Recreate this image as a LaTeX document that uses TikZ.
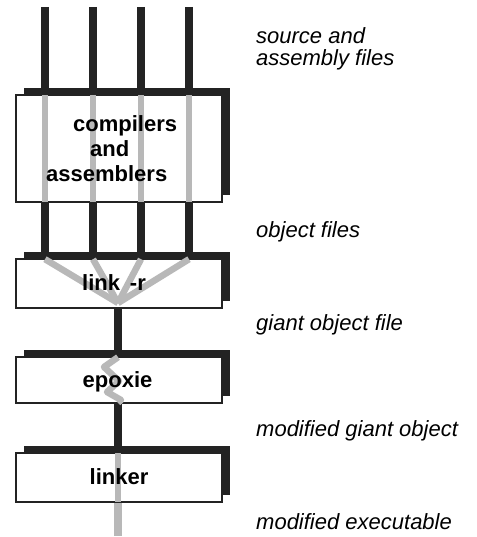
\documentclass[tikz,border=0pt]{standalone}
\usepackage{fontspec}
\setmainfont{Liberation Sans}
\usetikzlibrary{shadows}
\definecolor{wiredark}{HTML}{232323}
\definecolor{wiregrey}{HTML}{B8B8B8}
\begin{document}
\begin{tikzpicture}[x=1pt,y=-1pt,
  darkwire/.style={draw=wiredark,line width=8pt},
  greywire/.style={draw=wiregrey,line width=6.5pt,line join=round},
  stagebox/.style={draw=wiredark,line width=1.6pt,fill=white,minimum width=206pt,inner sep=0pt,
    general shadow={fill=wiredark,shadow xshift=8pt,shadow yshift=7pt}},
  stagetext/.style={font=\fontsize{22}{25}\selectfont\bfseries,inner sep=0pt},
  filetext/.style={font=\fontsize{22}{22}\selectfont\itshape,anchor=base west,inner sep=0pt}]
\useasboundingbox (0,0) rectangle (476,537);

% input wires and the output end
\coordinate (t1) at (45,7);
\coordinate (t2) at (93,7);
\coordinate (t3) at (141,7);
\coordinate (t4) at (189,7);
\coordinate (out) at (118,536);

% stage boxes
\node[stagebox,minimum height=107pt] (comp) at (119,148.5) {};
\node[stagebox,minimum height=49pt] (link) at (119,283.5) {};
\node[stagebox,minimum height=46pt] (epox) at (119,380) {};
\node[stagebox,minimum height=49pt] (lnkr) at (119,477.5) {};
\coordinate (merge) at (118,303);

% dark wires between the stages
\foreach \i in {1,...,4} {
  \draw[darkwire] (t\i) -- (t\i |- comp.north);
  \draw[darkwire] (t\i |- comp.south) -- (t\i |- link.north);
}
\draw[darkwire] (merge |- link.south) -- (merge |- epox.north);
\draw[darkwire] (merge |- epox.south) -- (merge |- lnkr.north);

% wires passing through the stages
\foreach \i in {1,...,4} {
  \draw[greywire,line cap=butt] ([yshift=-1pt]t\i |- comp.north) -- ([yshift=1pt]t\i |- comp.south);
  \draw[greywire] ([yshift=-1pt]t\i |- link.north) -- (merge);
}
\draw[greywire] ([yshift=-1pt]merge |- epox.north) -- (104,367) -- (119,381) -- (107,392) -- (121,400) -- ([yshift=1pt]merge |- epox.south);
\draw[greywire] ([yshift=-1pt]merge |- lnkr.north) -- ([yshift=1pt]merge |- lnkr.south);
\draw[greywire,line width=8pt] (merge |- lnkr.south) -- (out);

% stage names
\node[stagetext,align=left,anchor=north west] (compt) at (46,115)
  {\hspace*{27pt}compilers\\\hspace*{44pt}and\\assemblers};
\node[stagetext,anchor=base] (linkt) at (114,290) {link\hspace{0.45em}-r};
\node[stagetext,anchor=base] (epoxt) at (117.5,387) {epoxie};
\node[stagetext,anchor=base] (lnkrt) at (119,484) {linker};

% file descriptions
\node[filetext] (f1) at (256,44) {source and};
\node[filetext] (f2) at (256,66) {assembly files};
\node[filetext] (f3) at (256,237) {object files};
\node[filetext] (f4) at (256,330) {giant object file};
\node[filetext] (f5) at (256,436) {modified giant object};
\node[filetext] (f6) at (256,529) {modified executable};
\end{tikzpicture}
\end{document}
